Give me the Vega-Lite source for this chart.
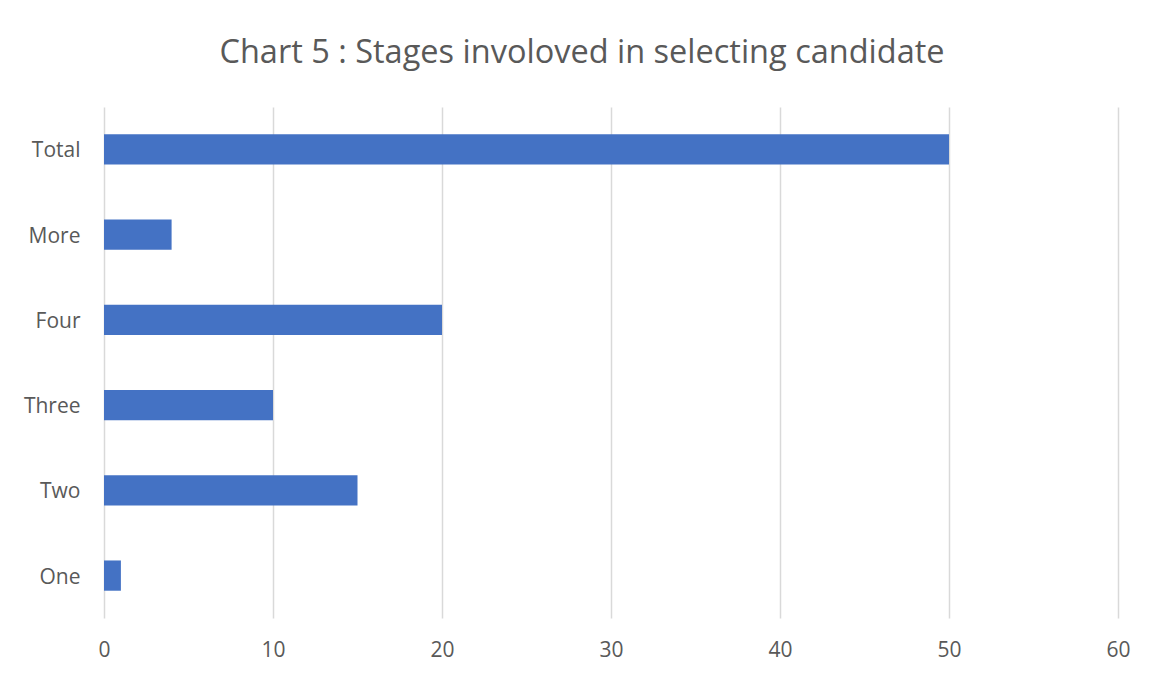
{
  "$schema": "https://vega.github.io/schema/vega-lite/v6.json",
  "autosize": "none",
  "width": 1014,
  "height": 511,
  "padding": {"left": 104, "top": 107, "right": 35, "bottom": 59},
  "background": "white",
  "title": {
    "text": "Chart 5 : Stages involoved in selecting candidate",
    "font": "Open Sans",
    "fontSize": 32.5,
    "fontWeight": "normal",
    "color": "#595959",
    "anchor": "middle",
    "frame": "group",
    "dx": -29,
    "baseline": "alphabetic",
    "offset": 12
  },
  "data": {
    "values": [
      {"stage": "Total", "count": 50},
      {"stage": "More", "count": 4},
      {"stage": "Four", "count": 20},
      {"stage": "Three", "count": 10},
      {"stage": "Two", "count": 15},
      {"stage": "One", "count": 1}
    ]
  },
  "mark": {"type": "bar", "color": "#4472C4"},
  "encoding": {
    "y": {
      "field": "stage",
      "type": "nominal",
      "sort": ["Total", "More", "Four", "Three", "Two", "One"],
      "scale": {"paddingInner": 0.645, "paddingOuter": 0.32},
      "axis": {
        "title": null,
        "domain": false,
        "ticks": false,
        "grid": false,
        "labelFont": "Open Sans",
        "labelFontSize": 21,
        "labelColor": "#595959",
        "labelPadding": 24,
        "labelOffset": 2
      }
    },
    "x": {
      "field": "count",
      "type": "quantitative",
      "scale": {"domain": [0, 60], "nice": false},
      "axis": {
        "title": null,
        "values": [0, 10, 20, 30, 40, 50, 60],
        "domain": false,
        "ticks": false,
        "grid": true,
        "gridColor": "#d9d9d9",
        "gridWidth": 1.5,
        "labelFlush": false,
        "labelFont": "Open Sans",
        "labelFontSize": 21,
        "labelColor": "#595959",
        "labelPadding": 21
      }
    }
  },
  "config": {"view": {"stroke": null}}
}
